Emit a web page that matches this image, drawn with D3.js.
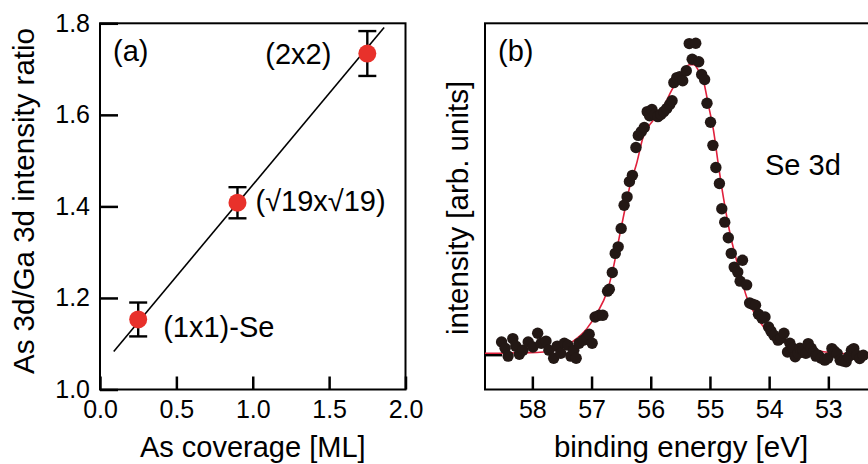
<!DOCTYPE html>
<html>
<head>
<meta charset="utf-8">
<script src="https://cdn.jsdelivr.net/npm/d3@7"></script>
<style>
  body { margin: 0; background: #fff; }
  svg { display: block; font-family: "Liberation Sans", Arial, Helvetica, sans-serif; }
  .tick line { stroke: #000; stroke-width: 2.5; }
  .tick text { font-size: 25px; fill: #000; }
</style>
</head>
<body>
<svg id="chart" width="868" height="464"></svg>
<script>
// panel (a): As 3d / Ga 3d ratio vs As coverage
var coverage = [0.25, 0.9, 1.75];
var ratio = [1.153, 1.408, 1.734];
var ratioErr = [0.037, 0.034, 0.049];
var phaseLabels = ["(1x1)-Se", "(\u221A19x\u221A19)", "(2x2)"];
var fitCoverage = [0.09, 1.86];
var fitRatio = [1.083, 1.791];
var xTicksA = [0, 0.5, 1.0, 1.5, 2.0];
var yTicksA = [1.0, 1.2, 1.4, 1.6, 1.8];

// panel (b): Se 3d spectrum (intensity in arb. units, baseline = 0)
var energy = [58.52,58.46,58.41,58.33,58.28,58.22,58.16,58.07,57.99,57.91,
  57.85,57.77,57.72,57.64,57.58,57.52,57.46,57.40,57.35,57.30,
  57.26,57.21,57.14,57.08,57.04,56.99,56.94,56.87,56.81,56.73,
  56.70,56.65,56.60,56.55,56.50,56.45,56.40,56.36,56.31,56.25,
  56.21,56.16,56.11,56.06,56.02,55.98,55.93,55.88,55.83,55.78,
  55.73,55.68,55.64,55.61,55.56,55.51,55.46,55.40,55.35,55.30,
  55.24,55.19,55.14,55.09,55.05,54.99,54.95,54.90,54.84,54.80,
  54.75,54.69,54.64,54.59,54.53,54.49,54.45,54.38,54.33,54.28,
  54.23,54.18,54.12,54.07,54.01,53.97,53.92,53.85,53.80,53.75,
  53.69,53.65,53.60,53.56,53.51,53.48,53.43,53.38,53.34,53.29,
  53.25,53.21,53.17,53.12,53.06,53.01,52.94,52.90,52.85,52.80,
  52.75,52.70,52.66,52.61,52.57,52.52,52.47,52.41];
var intensity = [4.2,2.2,-0.3,5.3,2.9,0.3,1.6,4.2,2.6,7.0,
  3.8,4.5,1.6,-1.0,2.9,0.6,3.8,3.2,-0.3,1.6,
  -1.0,3.8,4.8,5.8,6.7,3.8,12.2,12.8,12.8,20.5,
  21.1,26.5,32.6,34.7,40.6,48.0,50.7,55.6,57.6,66.5,
  70.4,71.6,72.9,78.0,76.7,78.7,77.1,76.4,77.1,78.0,
  79.0,80.3,81.5,87.3,88.9,89.2,87.9,91.1,99.8,94.8,
  99.9,94.0,89.9,88.3,80.7,74.6,67.2,60.1,55.0,46.9,
  42.6,37.6,32.6,28.2,26.6,23.7,30.4,22.5,16.7,16.3,
  16.0,13.1,11.8,12.2,9.0,7.7,6.4,4.8,5.4,7.0,
  1.0,3.8,2.2,-0.5,0.6,2.2,1.6,0.6,3.7,2.2,
  1.0,-0.3,0.0,-1.0,-1.6,-1.0,2.1,1.3,0.5,-1.6,
  -1.9,-2.1,-0.5,1.6,2.1,0.0,-1.1,0.0];
// fitted curve
var fitEnergy = [58.80,58.04,57.62,57.31,57.08,56.91,56.74,56.63,56.52,56.43,
  56.35,56.24,56.13,55.96,55.79,55.65,55.48,55.35,55.27,55.20,
  55.11,55.03,54.94,54.86,54.77,54.66,54.52,54.38,54.21,53.99,
  53.65,53.08,52.52,52.20];
var fitIntensity = [0.6,0.8,1.6,4.5,8.5,13.4,20.2,28.2,38.9,47.3,
  54.4,61.3,69.8,75.2,79.4,84.7,90.1,93.0,93.0,91.4,
  87.9,80.5,72.0,61.3,50.2,38.9,28.2,18.6,12.2,6.9,
  3.7,1.1,0.3,0.2];
var xTicksB = [58, 57, 56, 55, 54, 53];

var svg = d3.select("#chart");
var red = "#e8312b";
var dotColor = "#231815";

// ---------- panel (a)
var xA = d3.scaleLinear().domain([0, 2]).range([100, 405.5]);
var yA = d3.scaleLinear().domain([1.0, 1.8]).range([389.5, 23.3]);

var gA = svg.append("g");

gA.append("g")
    .attr("transform", "translate(0," + yA(1.0) + ")")
    .call(d3.axisBottom(xA).tickValues(xTicksA).tickSize(-13).tickPadding(11)
      .tickFormat(d3.format(".1f")))
    .call(function(g) { g.select(".domain").remove(); });

gA.append("g")
    .attr("transform", "translate(" + xA(0) + ",0)")
    .call(d3.axisLeft(yA).tickValues(yTicksA).tickSize(-18).tickPadding(10)
      .tickFormat(d3.format(".1f")))
    .call(function(g) { g.select(".domain").remove(); });

gA.append("rect")
    .attr("x", xA(0)).attr("y", yA(1.8))
    .attr("width", xA(2) - xA(0)).attr("height", yA(1.0) - yA(1.8))
    .attr("fill", "none").attr("stroke", "#000").attr("stroke-width", 2);

gA.append("line")
    .attr("x1", xA(fitCoverage[0])).attr("y1", yA(fitRatio[0]))
    .attr("x2", xA(fitCoverage[1])).attr("y2", yA(fitRatio[1]))
    .attr("stroke", "#000").attr("stroke-width", 1.6);

var pts = coverage.map(function(c, i) { return {x: c, y: ratio[i], e: ratioErr[i], label: phaseLabels[i]}; });

var eb = gA.selectAll(".err").data(pts).enter().append("g").attr("class", "err")
    .attr("stroke", "#000").attr("stroke-width", 2.4);
eb.append("line")
    .attr("x1", function(d) { return xA(d.x); }).attr("x2", function(d) { return xA(d.x); })
    .attr("y1", function(d) { return yA(d.y - d.e); }).attr("y2", function(d) { return yA(d.y + d.e); });
eb.append("line")
    .attr("x1", function(d) { return xA(d.x) - 9; }).attr("x2", function(d) { return xA(d.x) + 9; })
    .attr("y1", function(d) { return yA(d.y + d.e); }).attr("y2", function(d) { return yA(d.y + d.e); });
eb.append("line")
    .attr("x1", function(d) { return xA(d.x) - 9; }).attr("x2", function(d) { return xA(d.x) + 9; })
    .attr("y1", function(d) { return yA(d.y - d.e); }).attr("y2", function(d) { return yA(d.y - d.e); });

gA.selectAll(".pt").data(pts).enter().append("circle")
    .attr("class", "pt")
    .attr("cx", function(d) { return xA(d.x); })
    .attr("cy", function(d) { return yA(d.y); })
    .attr("r", 9)
    .attr("fill", red);

// label offsets relative to each point
var labelOff = [[25, 18], [18, 8], [-102, 10]];
gA.selectAll(".plabel").data(pts).enter().append("text")
    .attr("class", "plabel")
    .attr("x", function(d, i) { return xA(d.x) + labelOff[i][0]; })
    .attr("y", function(d, i) { return yA(d.y) + labelOff[i][1]; })
    .style("font-size", "29px")
    .text(function(d) { return d.label; });

gA.append("text").attr("x", 113).attr("y", 61).style("font-size", "29px").text("(a)");

gA.append("text")
    .attr("x", (xA(0) + xA(2)) / 2).attr("y", 457)
    .attr("text-anchor", "middle").style("font-size", "29px")
    .text("As coverage [ML]");

gA.append("text")
    .attr("transform", "translate(34," + 201 + ") rotate(-90)")
    .attr("text-anchor", "middle").style("font-size", "29.5px")
    .text("As 3d/Ga 3d intensity ratio");

// ---------- panel (b)
var xB = d3.scaleLinear().domain([58.8, 52.2]).range([485, 875.7]);
var yB = d3.scaleLinear().domain([-11, 106.3]).range([389.5, 23.3]);

var gB = svg.append("g");

gB.append("g")
    .attr("transform", "translate(0," + yB(-11) + ")")
    .call(d3.axisBottom(xB).tickValues(xTicksB).tickSize(-13).tickPadding(11)
      .tickFormat(d3.format("d")))
    .call(function(g) { g.select(".domain").remove(); });

// baseline markers on both sides
gB.append("line")
    .attr("x1", xB(58.8)).attr("x2", xB(58.8) + 17)
    .attr("y1", yB(0)).attr("y2", yB(0))
    .attr("stroke", "#000").attr("stroke-width", 2.5);
gB.append("line")
    .attr("x1", xB(52.2) - 17).attr("x2", xB(52.2))
    .attr("y1", yB(0)).attr("y2", yB(0))
    .attr("stroke", "#000").attr("stroke-width", 2.5);

gB.append("rect")
    .attr("x", xB(58.8)).attr("y", yB(106.3))
    .attr("width", xB(52.2) - xB(58.8)).attr("height", yB(-11) - yB(106.3))
    .attr("fill", "none").attr("stroke", "#000").attr("stroke-width", 2);

var fitLine = d3.line()
    .curve(d3.curveMonotoneX)
    .x(function(d) { return xB(d[0]); })
    .y(function(d) { return yB(d[1]); });

gB.append("path")
    .datum(fitEnergy.map(function(e, i) { return [e, fitIntensity[i]]; }))
    .attr("d", fitLine)
    .attr("fill", "none")
    .attr("stroke", "#e0203c")
    .attr("stroke-width", 1.6);

gB.selectAll(".dot").data(energy.map(function(e, i) { return [e, intensity[i]]; }))
  .enter().append("circle")
    .attr("class", "dot")
    .attr("cx", function(d) { return xB(d[0]); })
    .attr("cy", function(d) { return yB(d[1]); })
    .attr("r", 5.7)
    .attr("fill", dotColor);

gB.append("text").attr("x", 498).attr("y", 61).style("font-size", "29px").text("(b)");
gB.append("text").attr("x", 765).attr("y", 175).style("font-size", "29px").text("Se 3d");

gB.append("text")
    .attr("x", 681).attr("y", 457)
    .attr("text-anchor", "middle").style("font-size", "29.5px")
    .text("binding energy [eV]");

gB.append("text")
    .attr("transform", "translate(468," + 208 + ") rotate(-90)")
    .attr("text-anchor", "middle").style("font-size", "29.5px")
    .text("intensity [arb. units]");
</script>
</body>
</html>
